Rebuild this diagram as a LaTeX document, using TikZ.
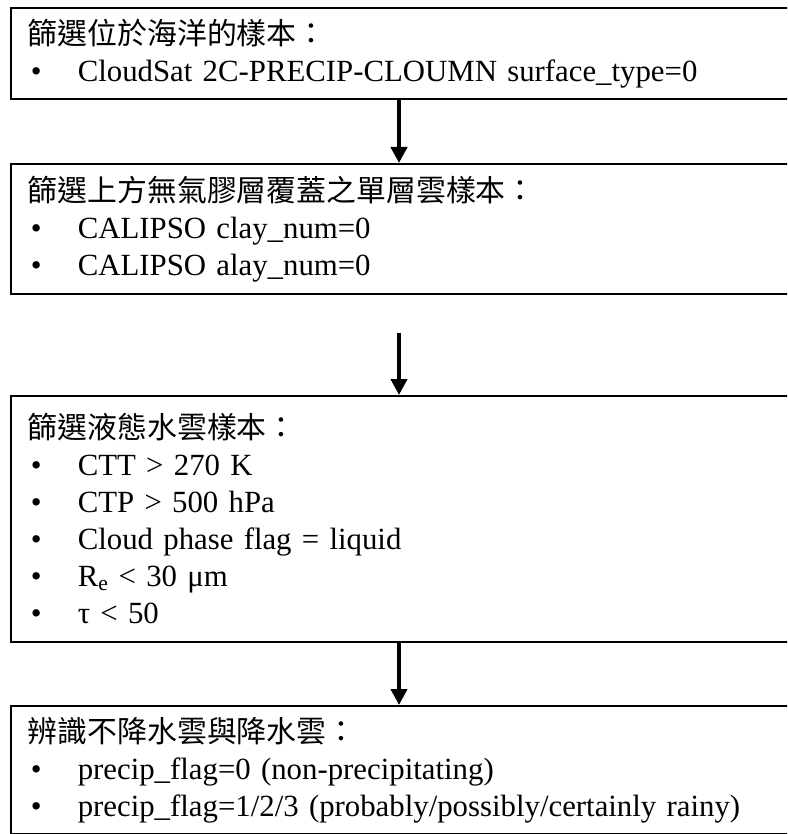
\documentclass[tikz,border=0pt]{standalone}
\usepackage{fontspec}
\setmainfont{Liberation Serif}
\newfontfamily\cjk{Noto Sans CJK TC}[Scale=0.97]
\usetikzlibrary{arrows.meta}
\newcommand{\itm}[1]{\\\hspace*{3pt}\makebox[47pt][l]{\textbullet}#1}
\begin{document}
\begin{tikzpicture}[x=1pt,y=-1pt,
  stepbox/.style={draw,line width=1.6pt,anchor=north west,align=left,text width=760pt,
    inner xsep=17pt,inner ysep=0pt,font=\fontsize{30.8}{37}\selectfont},
  flow/.style={line width=4pt,-{Triangle[width=16pt,length=16pt]}}]
\clip (0,0) rectangle (787,834);
\node[stepbox,minimum height=91pt] (ocean) at (10,7)
  {{\cjk 篩選位於海洋的樣本：}\itm{CloudSat 2C-PRECIP-CLOUMN surface\_type=0}};
\node[stepbox,minimum height=130pt] (single) at (10,163)
  {{\cjk 篩選上方無氣膠層覆蓋之單層雲樣本：}\itm{CALIPSO clay\_num=0}\itm{CALIPSO alay\_num=0}};
\node[stepbox,minimum height=246pt] (liquid) at (10,395)
  {{\cjk 篩選液態水雲樣本：}\itm{CTT > 270 K}\itm{CTP > 500 hPa}\itm{Cloud phase flag = liquid}%
   \itm{R\textsubscript{e} < 30 μm}\itm{τ < 50}};
\node[stepbox,minimum height=128pt] (rain) at (10,705)
  {{\cjk 辨識不降水雲與降水雲：}\itm{precip\_flag=0 (non-precipitating)}%
   \itm{precip\_flag=1/2/3 (probably/possibly/certainly rainy)}};
\coordinate (gap) at (399,333);
\draw[flow] (ocean.south -| gap) -- (single.north -| gap);
\draw[flow] (gap) -- (liquid.north -| gap);
\draw[flow] (liquid.south -| gap) -- (rain.north -| gap);
\end{tikzpicture}
\end{document}
